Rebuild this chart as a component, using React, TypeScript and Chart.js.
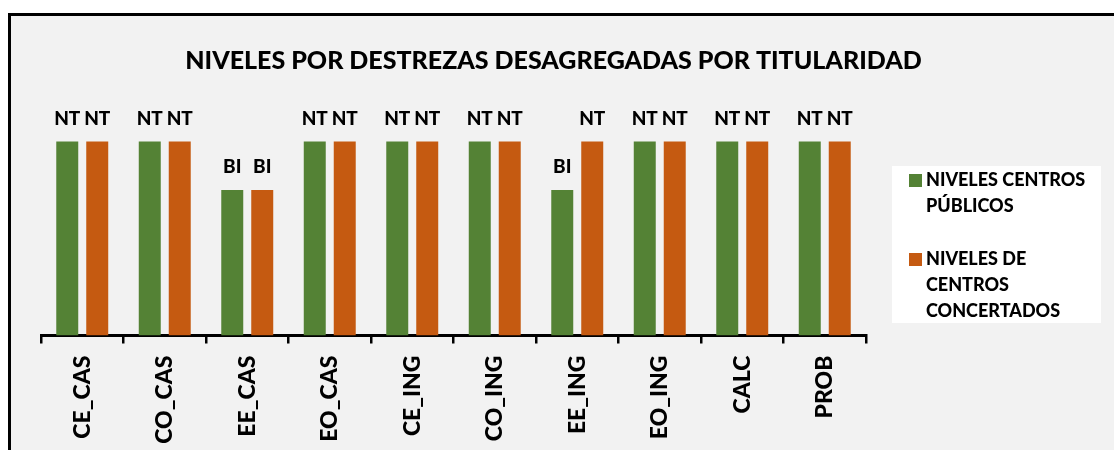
import React, { useEffect, useRef } from "react";
import { Chart, registerables } from "chart.js";

Chart.register(...registerables);

const chartTitle = "NIVELES POR DESTREZAS DESAGREGADAS POR TITULARIDAD";
const categories = ["CE_CAS", "CO_CAS", "EE_CAS", "EO_CAS", "CE_ING", "CO_ING", "EE_ING", "EO_ING", "CALC", "PROB"];
const publicLabels = ["NT", "NT", "BI", "NT", "NT", "NT", "BI", "NT", "NT", "NT"];
const publicValues = [4, 4, 3, 4, 4, 4, 3, 4, 4, 4];
const concertLabels = ["NT", "NT", "BI", "NT", "NT", "NT", "NT", "NT", "NT", "NT"];
const concertValues = [4, 4, 3, 4, 4, 4, 4, 4, 4, 4];
const seriesNames = [["NIVELES CENTROS", "PÚBLICOS"], ["NIVELES DE", "CENTROS", "CONCERTADOS"]];
const seriesLabels = [publicLabels, concertLabels];
const colors = ["#548235", "#C55A11"];

const FONT = "Lato, 'Open Sans', sans-serif";
const W = "900";

const titlePlugin = {
  id: "customTitle",
  afterDraw(chart: any) {
    const ctx = chart.ctx;
    ctx.save();
    ctx.font = `${W} 25px ${FONT}`;
    ctx.fillStyle = "#000";
    ctx.textAlign = "center";
    ctx.textBaseline = "alphabetic";
    ctx.fillText(chartTitle, 553.5, 69);
    ctx.restore();
  },
};

const dataLabelPlugin = {
  id: "dataLabels",
  afterDatasetsDraw(chart: any) {
    const ctx = chart.ctx;
    ctx.save();
    ctx.font = `${W} 19px ${FONT}`;
    ctx.fillStyle = "#000";
    ctx.textAlign = "center";
    ctx.textBaseline = "alphabetic";
    chart.data.datasets.forEach((ds: any, di: number) => {
      const meta = chart.getDatasetMeta(di);
      meta.data.forEach((el: any, i: number) => {
        ctx.fillText(seriesLabels[di][i], el.x, el.y - 17);
      });
    });
    ctx.restore();
  },
};

const legendPlugin = {
  id: "customLegend",
  afterDraw(chart: any) {
    const ctx = chart.ctx;
    ctx.save();
    ctx.fillStyle = "#ffffff";
    ctx.fillRect(892, 166, 209, 157);
    ctx.font = `${W} 18px ${FONT}`;
    ctx.textAlign = "left";
    ctx.textBaseline = "alphabetic";
    const starts = [186, 265];
    seriesNames.forEach((lines, si) => {
      const base = starts[si];
      ctx.fillStyle = colors[si];
      ctx.fillRect(909, base - 12, 13, 13);
      ctx.fillStyle = "#000";
      lines.forEach((line, li) => {
        ctx.fillText(line, 926, base + li * 26);
      });
    });
    ctx.restore();
  },
};

export default function App() {
  const ref = useRef<HTMLCanvasElement | null>(null);
  useEffect(() => {
    if (!ref.current) return;
    const chart = new Chart(ref.current, {
      type: "bar",
      data: {
        labels: categories,
        datasets: [
          {
            label: seriesNames[0].join(" "),
            data: publicValues,
            backgroundColor: colors[0],
            categoryPercentage: 0.727,
            barPercentage: 0.733,
          },
          {
            label: seriesNames[1].join(" "),
            data: concertValues,
            backgroundColor: colors[1],
            categoryPercentage: 0.727,
            barPercentage: 0.733,
          },
        ],
      },
      options: {
        responsive: false,
        animation: false,
        layout: { padding: { left: 41, right: 248, top: 93, bottom: 0 } },
        plugins: {
          legend: { display: false },
          tooltip: { enabled: false },
          title: { display: false },
        },
        scales: {
          x: {
            afterFit: (scale: any) => {
              scale.height = 114.5;
            },
            border: { display: true, color: "#000", width: 3 },
            grid: {
              offset: true,
              drawOnChartArea: false,
              drawTicks: true,
              tickLength: 8,
              color: "#000",
              lineWidth: 2.5,
            },
            ticks: {
              color: "#000",
              font: { family: FONT, size: 23, weight: W },
              minRotation: 90,
              maxRotation: 90,
              padding: 12,
              autoSkip: false,
            },
          },
          y: {
            display: false,
            min: 0,
            max: 5,
          },
        },
      },
      plugins: [dataLabelPlugin, legendPlugin, titlePlugin],
    });
    return () => chart.destroy();
  }, []);

  return (
    <div>
      <div
        style={{
          position: "fixed",
          left: 8,
          top: 13,
          right: 0,
          bottom: 0,
          background: "#f2f2f2",
          borderTop: "3px solid #000",
          borderLeft: "3px solid #000",
        }}
      />
      <canvas
        ref={ref}
        width={1114}
        height={450}
        style={{ position: "fixed", left: 0, top: 0, width: 1114, height: 450 }}
      />
    </div>
  );
}
